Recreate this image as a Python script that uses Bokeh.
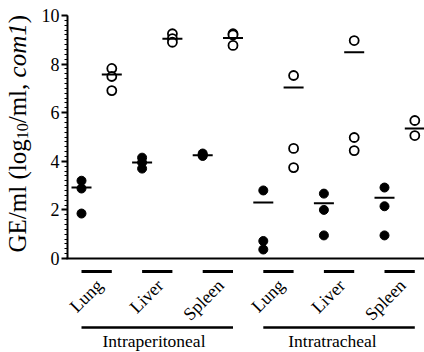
import math
from bokeh.plotting import figure
from bokeh.models import Range1d, FixedTicker
from bokeh.core.properties import value
from bokeh.embed import file_html
from bokeh.resources import INLINE

# ---- data ----
tissues = ["Lung", "Liver", "Spleen", "Lung", "Liver", "Spleen"]
routes = ["Intraperitoneal", "Intratracheal"]
filled_vals = [
    [3.2, 2.88, 1.85],
    [4.15, 3.95, 3.7],
    [4.32, 4.22, 4.26],
    [2.8, 0.72, 0.37],
    [2.67, 2.0, 0.95],
    [2.92, 2.15, 0.95],
]
open_vals = [
    [7.82, 7.49, 6.91],
    [9.25, 9.05, 8.9],
    [9.25, 9.2, 8.77],
    [7.53, 4.53, 3.74],
    [8.97, 4.98, 4.44],
    [5.68, 5.06],
]
filled_means = [2.92, 3.95, 4.25, 2.3, 2.27, 2.5]
open_means = [7.57, 9.04, 9.07, 7.04, 8.49, 5.35]
y_ticks = [0, 2, 4, 6, 8, 10]

FONT = "Liberation Serif"
PX_X = 30.3   # px per x unit
PX_Y = 24.3   # px per y unit
X0 = 81       # page px of first column
Y0 = 258      # page px of y = 0


def xpx(px):
    return (px - X0) / PX_X


def ypx(py):
    return (Y0 - py) / PX_Y


p = figure(width=424, height=352, output_backend="svg", toolbar_location=None,
           x_range=Range1d(xpx(0), xpx(424)), y_range=Range1d(ypx(352), ypx(0)),
           x_axis_type=None, min_border=0, min_border_left=0, min_border_right=0,
           min_border_top=0, min_border_bottom=0)
p.outline_line_color = None
p.grid.visible = False
p.background_fill_color = "white"
p.border_fill_color = "white"

ax = p.yaxis[0]
ax.fixed_location = xpx(67)
ax.bounds = (0, 10)
ax.ticker = FixedTicker(ticks=y_ticks,
                        minor_ticks=[i * 0.2 for i in range(0, 51)])
ax.axis_line_width = 2
ax.axis_line_color = "black"
ax.major_tick_in = 0
ax.major_tick_out = 6
ax.major_tick_line_width = 2
ax.minor_tick_in = 0
ax.minor_tick_out = 3
ax.minor_tick_line_width = 1
ax.major_label_text_font = FONT
ax.major_label_text_font_size = "18px"
ax.major_label_text_color = "black"
ax.major_label_standoff = 2

# x axis line at y=0
p.segment([xpx(66)], [0], [xpx(424)], [0], line_color="black", line_width=2)

# points
fx, fy, ox, oy = [], [], [], []
for k, vals in enumerate(filled_vals):
    fx += [2 * k] * len(vals)
    fy += vals
for k, vals in enumerate(open_vals):
    ox += [2 * k + 1] * len(vals)
    oy += vals
p.scatter(fx, fy, size=9, fill_color="black", line_color="black")
p.scatter(ox, oy, size=9, fill_color="white", line_color="black", line_width=1.8)

# mean lines
hw = 10 / PX_X
mx = [2 * k for k in range(6)] + [2 * k + 1 for k in range(6)]
my = filled_means + open_means
p.segment([x - hw for x in mx], my, [x + hw for x in mx], my,
          line_color="black", line_width=2)

# tissue bars and labels
bar_y = ypx(271)
p.segment([2 * k for k in range(6)], [bar_y] * 6, [2 * k + 1 for k in range(6)], [bar_y] * 6,
          line_color="black", line_width=3)
lab_x = [2 * k + 0.5 + 3 / PX_X for k in range(6)]
lab_y = [ypx(282)] * 6
p.text(lab_x, lab_y, text=tissues, angle=math.pi / 4, text_align="right",
       text_baseline="middle", text_font=value(FONT), text_font_size="18px",
       text_color="black")

# route lines and labels
gl_y = ypx(327)
p.segment([0, 6], [gl_y, gl_y], [5, 11], [gl_y, gl_y], line_color="black", line_width=2.5)
p.text([xpx(153.5), xpx(332)], [ypx(340)] * 2, text=routes, text_align="center",
       text_baseline="alphabetic", text_font=value(FONT), text_font_size="17.5px",
       text_color="black")

# y axis title (rotated, in pieces)
TS = 25
SS = 16
y1 = 252
y2 = y1 - 4.528 * TS
y3 = y2 - 1.0 * SS
y4 = y3 - 1.834 * TS
y5 = y4 - 2.166 * TS
BX = 17
pieces = [
    ("GE/ml (log", TS, "normal", BX, y1),
    ("10", SS, "normal", BX + 5, y2),
    ("/ml, ", TS, "normal", BX, y3),
    ("com1", TS, "italic", BX, y4),
    (")", TS, "normal", BX, y5),
]
for txt, fs, style, px_, py_ in pieces:
    p.text([xpx(px_)], [ypx(py_)], text=[txt], angle=math.pi / 2,
           text_align="left", text_baseline="alphabetic",
           text_font=value(FONT), text_font_size=f"{fs}px",
           text_font_style=style, text_color="black")

open("out.html", "w").write(file_html(p, INLINE))
